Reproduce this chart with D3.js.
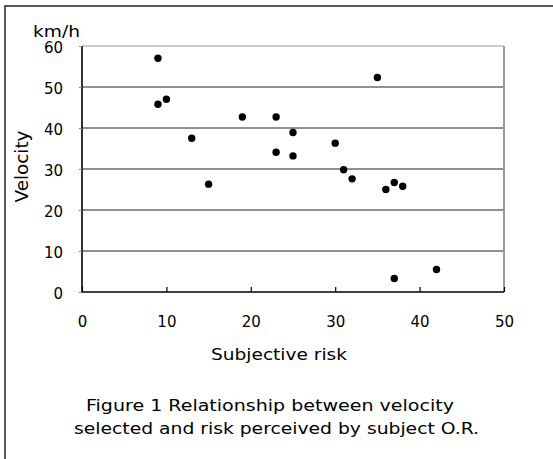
<!DOCTYPE html>
<html><head><meta charset="utf-8">
<script src="https://cdn.jsdelivr.net/npm/d3@7"></script>
<style>html,body{margin:0;padding:0;background:#fff;}svg{display:block;}</style>
</head><body>
<script>
const subjectiveRisk = [9, 9, 10, 13, 15, 19, 23, 23, 25, 25, 30, 31, 32, 35, 36, 37, 38, 37, 42];
const velocity = [57, 45.8, 47, 37.5, 26.3, 42.7, 42.7, 34.1, 38.9, 33.2, 36.3, 29.8, 27.6, 52.3, 25, 26.7, 25.8, 3.3, 5.5];
const xTicks = [0, 10, 20, 30, 40, 50];
const yTicks = [0, 10, 20, 30, 40, 50, 60];
const xLabel = "Subjective risk";
const yLabel = "Velocity";
const yUnit = "km/h";
const caption = ["Figure 1 Relationship between velocity", "selected and risk perceived by subject O.R."];

const W = 553, H = 459;
const font = "'DejaVu Sans', sans-serif";
const svg = d3.select("body").append("svg").attr("width", W).attr("height", H);

// outer frame
svg.append("rect").attr("x", 5).attr("y", 6).attr("width", 700).attr("height", 700)
  .attr("fill", "none").attr("stroke", "#000").attr("stroke-width", 1.3);

const x = d3.scaleLinear().domain([0, 50]).range([82, 504]);
const y = d3.scaleLinear().domain([0, 60]).range([292, 46]);

// gridlines
svg.append("g").selectAll("line").data(yTicks.filter(d => d > 0 && d < 60)).join("line")
  .attr("x1", x(0)).attr("x2", x(50)).attr("y1", d => y(d)).attr("y2", d => y(d))
  .attr("stroke", "#222").attr("stroke-width", 1);
// top & right border of plot
svg.append("line").attr("x1", x(0)).attr("x2", x(50)).attr("y1", y(60)).attr("y2", y(60))
  .attr("stroke", "#999").attr("stroke-width", 1.2);
svg.append("line").attr("x1", x(50)).attr("x2", x(50)).attr("y1", y(60)).attr("y2", y(0))
  .attr("stroke", "#999").attr("stroke-width", 2);

// y axis
const yAxis = svg.append("g").attr("transform", `translate(${x(0)},0)`)
  .call(d3.axisLeft(y).tickValues(yTicks).tickSize(3).tickPadding(16).tickFormat(d3.format("d")));
yAxis.select(".domain").attr("stroke", "#000").attr("stroke-width", 1.6).attr("d", `M0,${y(60)}V${y(0)}`);
yAxis.selectAll(".tick line").attr("stroke", "#888");
yAxis.selectAll("text").attr("font-family", font).attr("font-size", 15).attr("fill", "#000").attr("dy", "0.4em");

// x axis
const xAxis = svg.append("g").attr("transform", `translate(0,${y(0)})`)
  .call(d3.axisBottom(x).tickValues(xTicks).tickSize(-5).tickPadding(0).tickFormat(d3.format("d")));
xAxis.select(".domain").attr("stroke", "#000").attr("stroke-width", 1.6).attr("d", `M${x(0)},0H${x(50)}`);
xAxis.selectAll(".tick line").attr("stroke", "#000").attr("stroke-width", 1.2);
xAxis.selectAll("text").attr("font-family", font).attr("font-size", 15).attr("fill", "#000")
  .attr("dy", null).attr("y", 35);

// points
svg.append("g").selectAll("circle").data(subjectiveRisk.map((d, i) => [d, velocity[i]])).join("circle")
  .attr("cx", d => x(d[0])).attr("cy", d => y(d[1])).attr("r", 3.7).attr("fill", "#000");

// labels
svg.append("text").attr("x", 33).attr("y", 37).attr("font-family", font).attr("font-size", 15)
  .attr("textLength", 47).attr("lengthAdjust", "spacingAndGlyphs").text(yUnit);
svg.append("text").attr("transform", "translate(28,166.5) rotate(-90)").attr("text-anchor", "middle")
  .attr("font-family", font).attr("font-size", 17).attr("textLength", 72).attr("lengthAdjust", "spacingAndGlyphs").text(yLabel);
svg.append("text").attr("x", 279).attr("y", 360).attr("text-anchor", "middle")
  .attr("font-family", font).attr("font-size", 16).attr("textLength", 136).attr("lengthAdjust", "spacingAndGlyphs").text(xLabel);
const capLens = [368, 405];
const capX = [270, 276.5];
const capY = [411, 434];
caption.forEach((c, i) => {
  svg.append("text").attr("x", capX[i]).attr("y", capY[i]).attr("text-anchor", "middle")
    .attr("font-family", font).attr("font-size", 16).attr("textLength", capLens[i]).attr("lengthAdjust", "spacingAndGlyphs").text(c);
});
</script>
</body></html>
